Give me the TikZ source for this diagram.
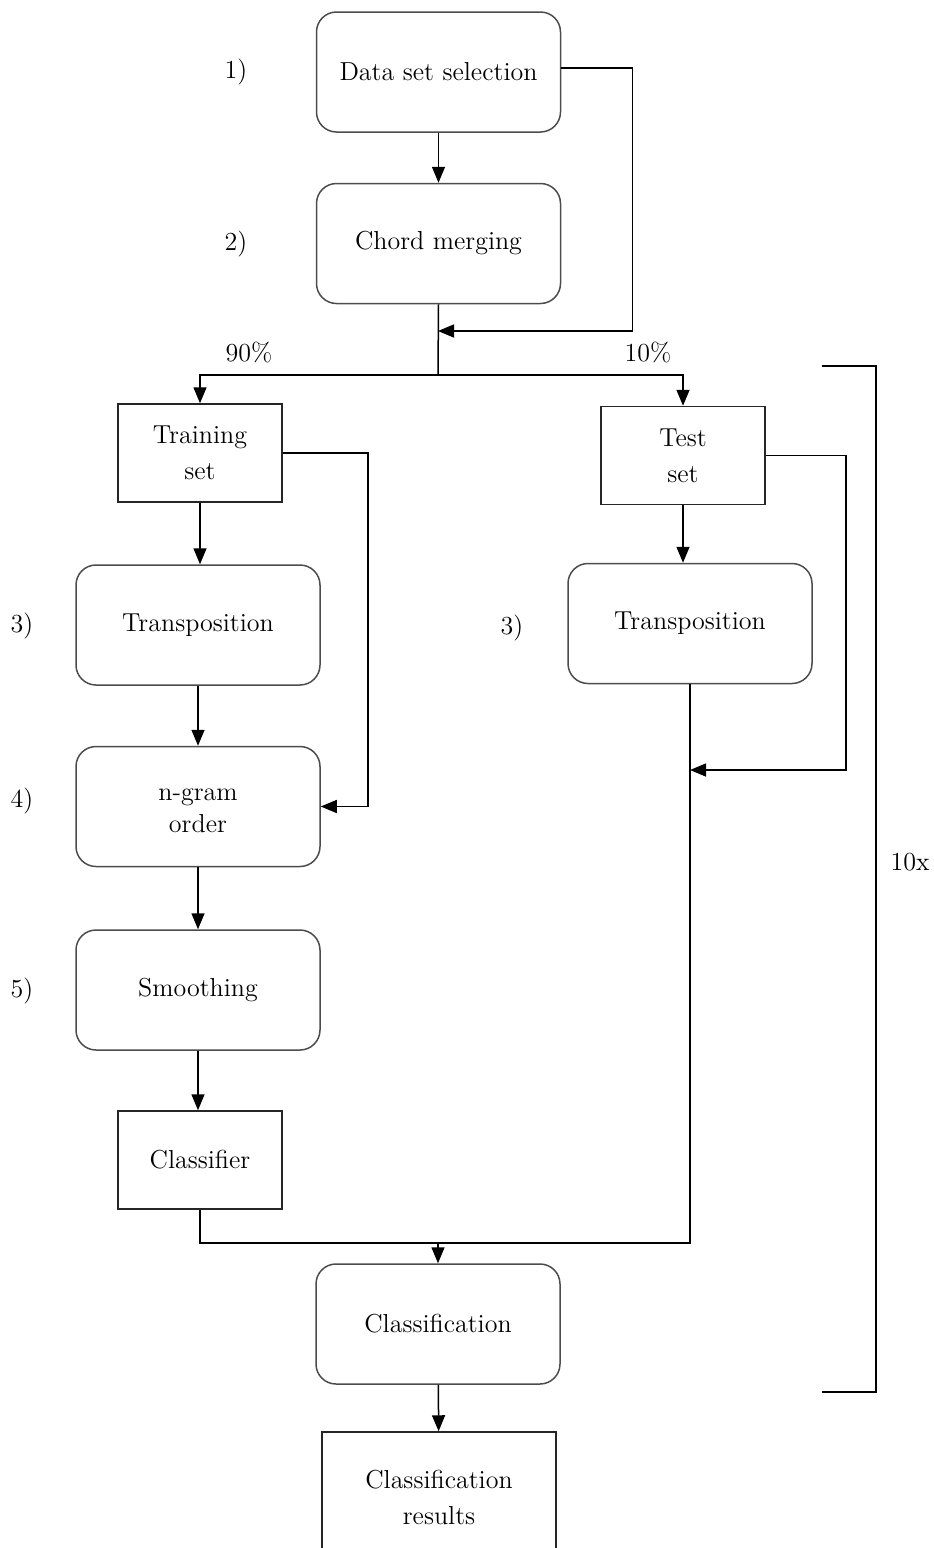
\documentclass[tikz,border=0pt]{standalone}
\usetikzlibrary{arrows.meta}
\begin{document}
\begin{tikzpicture}[x=0.5pt,y=-0.5pt,
  font=\fontsize{13}{16}\selectfont,
  line width=0.75pt,
  rbox/.style={draw=black!70, rounded corners=10pt, minimum width=122pt,
    minimum height=60pt, align=center, inner sep=0pt},
  sbox/.style={draw=black!85, minimum width=82pt, minimum height=49pt,
    align=center, inner sep=0pt},
  flow/.style={draw, -{Triangle[length=8pt,width=6.5pt]}},
  tag/.style={inner sep=0pt}]
\useasboundingbox (0,0) rectangle (933,1548);
\clip (0,0) rectangle (933,1548);

% process boxes
\node[rbox] (dss)    at (438.5,72)   {Data set selection};
\node[rbox] (chord)  at (438.5,243.5){Chord merging};
\node[sbox] (train)  at (200,453)    {Training\\[2pt]set};
\node[sbox] (test)   at (683,455.5)  {Test\\[2pt]set};
\node[rbox] (tl)     at (198,625)    {Transposition};
\node[rbox] (tr)     at (690,623.5)  {Transposition};
\node[rbox] (ngram)  at (198,806.5)  {\\[-6pt]n-gram\\order};
\node[rbox] (smooth) at (198,990)    {Smoothing};
\node[sbox] (clf)    at (200,1160)   {Classifier};
\node[rbox] (cls)    at (438,1324)   {Classification};
\node[sbox, minimum width=117pt, minimum height=65pt] (res) at (439,1497)
  {Classification\\[2pt]results};

% step numbers and labels
\node[tag] at (236,72)  {1)};
\node[tag] at (236,244) {2)};
\node[tag] at (22,626)  {3)};
\node[tag] at (512,628) {3)};
\node[tag] at (22,801)  {4)};
\node[tag] at (22,991)  {5)};
\node[tag] at (249,352) {90\%};
\node[tag] at (648,352) {10\%};
\node[tag] at (910,862) {10x};

% junction points
\coordinate (merge) at (438,331);
\coordinate (split) at (438,375);
\coordinate (join)  at (690,770);
\coordinate (bus)   at (438,1243);

% connectors
\draw[flow] (dss) -- (chord);
\draw[flow] ([yshift=2pt]dss.east) -- ++(71,0) |- (merge);
\draw (chord.south) -- (split);
\draw[flow] (split) -| (train.north);
\draw[flow] (split) -| (test.north);
\draw[flow] (train.south) -- (train.south |- tl.north);
\draw[flow] (test.south) -- (test.south |- tr.north);
\draw[flow] (train.east) -- ++(85,0) |- (ngram.east);
\draw[flow] (test.east) -- ++(80,0) |- (join);
\draw[flow] (tl) -- (ngram);
\draw[flow] (ngram) -- (smooth);
\draw[flow] (smooth.south) -- (smooth.south |- clf.north);
\draw (clf.south) |- (tr.south |- bus) -- (tr.south);
\draw[flow] (bus) -- (cls.north);
\draw[flow] (cls) -- (res);

% bracket marking the repeated part
\coordinate (brTop) at (822,366);
\coordinate (brBot) at (822,1392);
\draw (brTop) -- ++(54,0) |- (brBot);
\end{tikzpicture}
\end{document}
